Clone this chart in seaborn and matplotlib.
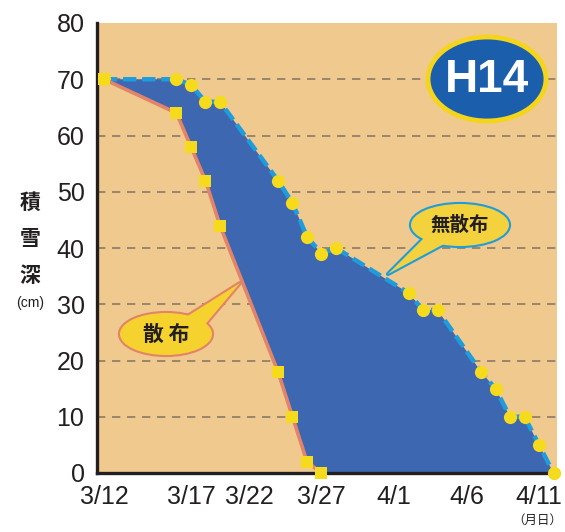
import matplotlib
matplotlib.use("Agg")
import matplotlib.pyplot as plt
import seaborn as sns
from matplotlib.patches import Ellipse, Polygon

# snow depth (cm) by day offset from 3/12
spread_day = [0, 5, 6, 7, 8, 12, 13, 14, 15]
spread_depth = [70, 64, 58, 52, 44, 18, 10, 2, 0]

nospread_day = [0, 5, 6, 7, 8, 12, 13, 14, 15, 16, 21, 22, 23, 26, 27, 28, 29, 30, 31]
nospread_depth = [70, 70, 69, 66, 66, 52, 48, 42, 39, 40, 32, 29, 29, 18, 15, 10, 10, 5, 0]

tick_day = [0, 6, 10, 15, 20, 25, 30]
tick_labels = ['3/12', '3/17', '3/22', '3/27', '4/1', '4/6', '4/11']
y_ticks = [0, 10, 20, 30, 40, 50, 60, 70, 80]
grid_levels = [10, 20, 30, 40, 50, 60, 70]

TAN = '#F0C98E'
FILL_BLUE = '#3D67B1'
LINE_BLUE = '#1F9CDB'
SALMON = '#E2836A'
YELLOW = '#F6DA1C'
DARK = '#231F20'

sns.set_style("white")
plt.rcParams['font.family'] = ['Liberation Sans', 'Noto Sans CJK JP', 'DejaVu Sans']

W, H = 565, 532
fig = plt.figure(figsize=(W / 100, H / 100), dpi=100, facecolor='white')
ax = fig.add_axes([97 / W, 59 / H, 460 / W, 450 / H])
ax.set_facecolor(TAN)
ax.set_xlim(-0.48, 31.24)
ax.set_ylim(0, 80)

ax.hlines(grid_levels, -0.48, 31.24, colors='#8C7A66', linestyles=(0, (5, 4)), lw=1.2, zorder=1)

# area between the two curves
poly_x = nospread_day + spread_day[::-1]
poly_y = nospread_depth + spread_depth[::-1]
ax.fill(poly_x, poly_y, color=FILL_BLUE, lw=0, zorder=2)

sns.lineplot(x=nospread_day, y=nospread_depth, ax=ax, color=LINE_BLUE, lw=3.2,
             marker='o', markersize=9.5, markerfacecolor=YELLOW, markeredgewidth=0,
             zorder=7, clip_on=False)
ax.lines[-1].set_dashes((3, 1.3))
sns.lineplot(x=spread_day, y=spread_depth, ax=ax, color=SALMON, lw=2.6,
             marker='s', markersize=8.5, markerfacecolor=YELLOW, markeredgewidth=0,
             zorder=7, clip_on=False)

ax.set_xticks(tick_day)
ax.set_xticklabels(tick_labels)
ax.set_yticks(y_ticks)
ax.set_xlabel('')
ax.set_ylabel('')
ax.tick_params(axis='x', direction='in', length=8, width=1.8, color=DARK, pad=9,
               labelsize=18, labelcolor=DARK)
ax.tick_params(axis='y', length=0, pad=9, labelsize=18, labelcolor=DARK)
ax.xaxis.get_major_ticks()[0].tick1line.set_visible(False)
for s in ['top', 'right']:
    ax.spines[s].set_visible(False)
for s in ['left', 'bottom']:
    ax.spines[s].set_color(DARK)
    ax.spines[s].set_linewidth(2.4)
    ax.spines[s].set_zorder(6)

inv = ax.transData.inverted()
sx = 460 / 31.72
sy = 450 / 80


def px(x, y):
    return inv.transform((x, H - y))


def callout(cx, cy, w, h, base, tip, face, edge, text, fs):
    pts = [px(*base[0]), px(*tip), px(*base[1])]
    e1 = Ellipse(px(cx, cy), w / sx, h / sy, fc=face, ec=edge, lw=3, zorder=8)
    p1 = Polygon(pts, closed=True, fc=face, ec=edge, lw=3, zorder=8, joinstyle='round')
    e2 = Ellipse(px(cx, cy), w / sx, h / sy, fc=face, ec='none', zorder=9)
    p2 = Polygon(pts, closed=True, fc=face, ec='none', zorder=9)
    for a in (e1, p1, e2, p2):
        ax.add_patch(a)
    tx, ty = px(cx, cy)
    ax.text(tx, ty, text, ha='center', va='center', fontsize=fs, color=DARK,
            family=['Noto Sans CJK JP'], weight='bold', zorder=10)


callout(460, 225, 98, 42, [(424, 238), (444, 244)], (388, 274),
        '#F3D23E', LINE_BLUE, '無散布', 14)
callout(166, 334, 92, 42, [(186, 317), (203, 327)], (240, 283),
        '#F5D22E', SALMON, '散 布', 15)

# H14 badge
ax.add_patch(Ellipse(px(487, 79), 118 / sx, 84 / sy, fc='#1B5EAC', ec='#F4D51C', lw=3.5, zorder=8))
hx, hy = px(487, 80)
ax.text(hx, hy, 'H14', ha='center', va='center', fontsize=33, color='white',
        weight='bold', zorder=9)

# y label stacked vertically
for ch, yy in zip(['積', '雪', '深'], [202, 238, 275]):
    fig.text(30 / W, 1 - yy / H, ch, ha='center', va='center', fontsize=15,
             family=['Noto Sans CJK JP'], weight='bold', color=DARK)
fig.text(30 / W, 1 - 303 / H, '(cm)', ha='center', va='center', fontsize=10, color=DARK)
fig.text(537 / W, 1 - 520 / H, '（月日）', ha='center', va='center', fontsize=9,
         family=['Noto Sans CJK JP'], color=DARK)

fig.savefig('out.png', dpi=100)
